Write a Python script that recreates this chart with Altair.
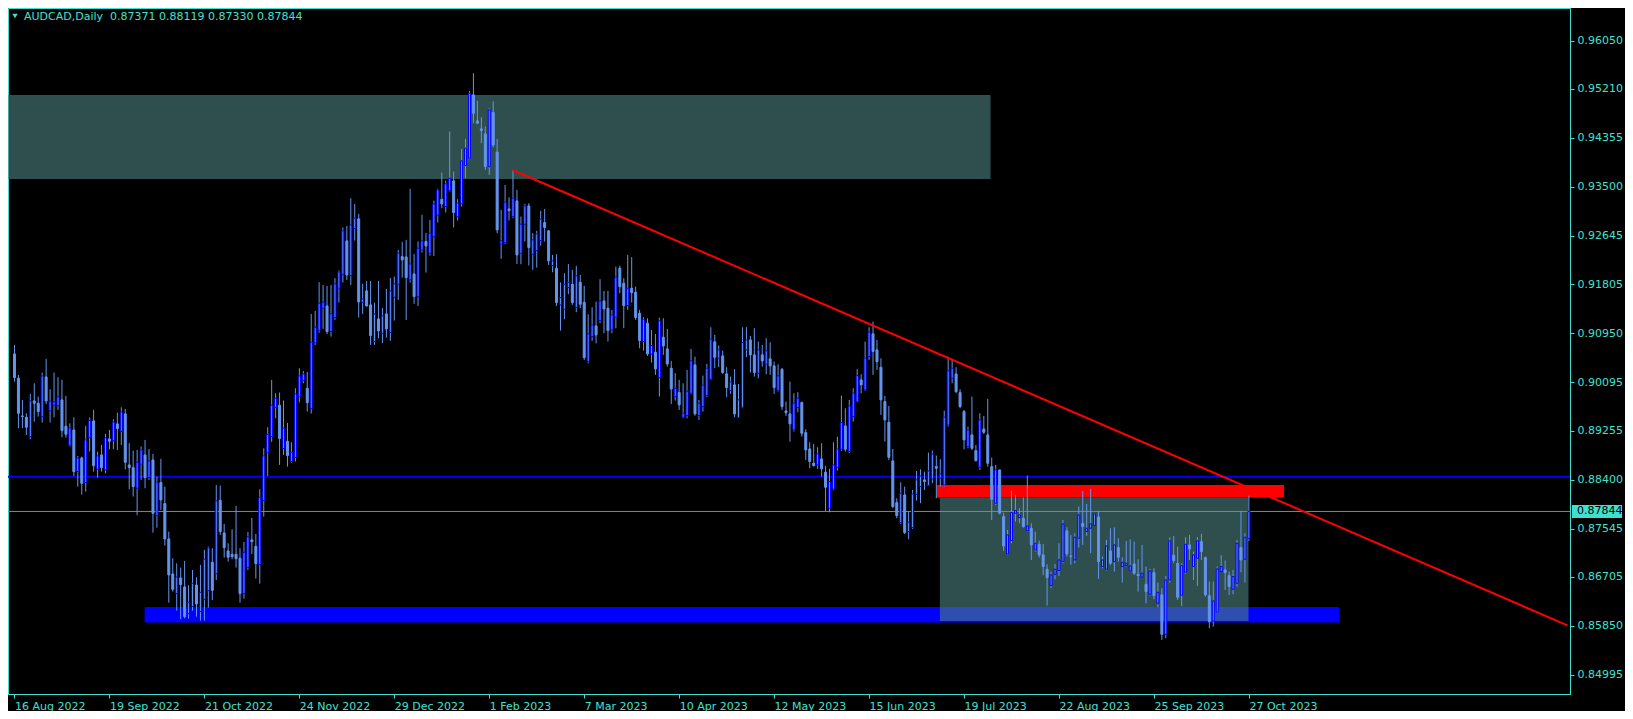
import altair as alt
import pandas as pd

# ---------------- data (AUDCAD daily) ----------------
O = [0.90590,0.90166,0.89509,0.89486,0.89149,0.89770,0.89730,0.89497,0.90189,0.89602,
     0.89695,0.89689,0.89788,0.89329,0.88992,0.89265,0.88539,0.88777,0.88347,0.89131,
     0.89422,0.88579,0.88829,0.88568,0.89108,0.89079,0.89370,0.89236,0.89544,0.88655,
     0.88608,0.88248,0.88667,0.88829,0.88434,0.88742,0.87772,0.88347,0.87981,0.87365,
     0.86755,0.86412,0.86685,0.86529,0.86064,0.86186,0.86563,0.86099,0.86314,0.86465,
     0.86958,0.86761,0.88039,0.87470,0.87156,0.87098,0.87098,0.87028,0.86412,0.86866,
     0.87348,0.87237,0.86918,0.88033,0.88870,0.89149,0.89654,0.89695,0.88940,0.89068,
     0.88713,0.88783,0.89846,0.90125,0.89991,0.89637,0.90787,0.91002,0.91386,0.91426,
     0.90979,0.91223,0.91734,0.91978,0.92559,0.91955,0.92774,0.92943,0.91484,0.91688,
     0.91444,0.90805,0.91200,0.90950,0.91287,0.90962,0.91577,0.91804,0.92286,0.92280,
     0.91880,0.91984,0.91589,0.92402,0.92548,0.92344,0.92635,0.93012,0.93285,0.93158,
     0.93437,0.93605,0.92983,0.93204,0.93872,0.94000,0.95104,0.94651,0.94511,0.94424,
     0.93855,0.94796,0.94105,0.92501,0.92530,0.93117,0.92983,0.93256,0.92344,0.92850,
     0.93169,0.92327,0.92391,0.92565,0.92879,0.92734,0.92129,0.92083,0.91444,0.91368,
     0.91746,0.91804,0.91397,0.91839,0.91490,0.90456,0.90892,0.91078,0.91171,0.91513,
     0.91386,0.91008,0.91229,0.92083,0.91821,0.91432,0.91734,0.91665,0.91298,0.90805,
     0.91124,0.90584,0.90619,0.90177,0.90880,0.90677,0.90340,0.89846,0.89916,0.89486,
     0.89515,0.89904,0.90398,0.89515,0.89672,0.89864,0.90149,0.90799,0.90515,0.90555,
     0.90242,0.89951,0.90050,0.89480,0.89661,0.90660,0.90834,0.90573,0.90253,0.90573,
     0.90410,0.90503,0.90381,0.89951,0.90323,0.89596,0.89544,0.89266,0.89655,0.89742,
     0.89219,0.88934,0.88685,0.88656,0.88760,0.88528,0.87900,0.88237,0.88615,0.88929,
     0.89335,0.88888,0.89498,0.89759,0.90137,0.89963,0.90544,0.90939,0.90660,0.90357,
     0.89759,0.89399,0.88725,0.87998,0.87650,0.88132,0.87493,0.87563,0.88144,0.88277,
     0.88394,0.88295,0.88411,0.88626,0.88423,0.88306,0.89352,0.90166,0.90241,0.89916,
     0.89585,0.88975,0.89178,0.88905,0.88614,0.89282,0.89178,0.88626,0.87987,0.88568,
     0.87754,0.87104,0.87336,0.87813,0.87737,0.87726,0.87510,0.87551,0.87173,0.87272,
     0.87087,0.86837,0.86552,0.86750,0.86814,0.86971,0.87505,0.87069,0.87000,0.87377,
     0.87639,0.87494,0.87552,0.87598,0.87749,0.86884,0.86837,0.87157,0.86971,0.87215,
     0.86884,0.86901,0.86808,0.86930,0.86750,0.86698,0.86576,0.86401,0.86779,0.86244,
     0.86390,0.85704,0.86651,0.87081,0.86942,0.86384,0.86785,0.87261,0.86884,0.87029,
     0.87319,0.87040,0.86378,0.85937,0.86088,0.86796,0.86825,0.86727,0.86488,0.86593,
     0.87215,0.87011,0.87371]
H = [0.90747,0.90224,0.89788,0.89555,0.89892,0.90078,0.89846,0.90264,0.90503,0.89974,
     0.90264,0.90183,0.90137,0.89858,0.89381,0.89486,0.88812,0.88800,0.89335,0.89480,
     0.89614,0.88887,0.89004,0.89195,0.89265,0.89451,0.89567,0.89660,0.89631,0.89033,
     0.88905,0.88916,0.88975,0.89091,0.88934,0.88847,0.88452,0.88760,0.88277,0.87493,
     0.87028,0.86941,0.86866,0.86982,0.86558,0.86825,0.86697,0.86912,0.87173,0.87232,
     0.87203,0.88306,0.88295,0.87627,0.87290,0.87534,0.87940,0.87203,0.87313,0.87487,
     0.87731,0.87452,0.88231,0.88945,0.89312,0.90137,0.89904,0.89916,0.89776,0.89387,
     0.89050,0.89991,0.90340,0.90293,0.90276,0.91287,0.91339,0.91839,0.91792,0.91775,
     0.91792,0.91909,0.92042,0.92792,0.92821,0.93303,0.93204,0.93030,0.91810,0.91862,
     0.91862,0.91484,0.91862,0.91391,0.91723,0.91914,0.91938,0.92402,0.92542,0.92577,
     0.93466,0.92333,0.92548,0.93012,0.92699,0.92925,0.93262,0.93466,0.93750,0.93611,
     0.94465,0.93768,0.93285,0.94163,0.94337,0.95174,0.95482,0.95000,0.94715,0.94552,
     0.94872,0.94988,0.94337,0.93100,0.93535,0.93320,0.93797,0.93448,0.92983,0.93204,
     0.93216,0.92693,0.92734,0.93082,0.93117,0.92751,0.92315,0.92327,0.91833,0.91996,
     0.92158,0.92054,0.92123,0.91967,0.91775,0.91281,0.91403,0.91502,0.91891,0.91688,
     0.91688,0.91357,0.92112,0.92124,0.91909,0.92315,0.92275,0.91763,0.91357,0.91229,
     0.91211,0.91008,0.90938,0.91223,0.91211,0.91025,0.90468,0.90253,0.90137,0.90078,
     0.90311,0.90677,0.90543,0.89788,0.90212,0.90416,0.91055,0.90921,0.90735,0.90648,
     0.90358,0.90195,0.90323,0.90067,0.91055,0.91055,0.90904,0.91038,0.90805,0.90747,
     0.90863,0.90793,0.90457,0.90410,0.90340,0.89759,0.90108,0.89905,0.89922,0.89759,
     0.89277,0.89051,0.89022,0.88963,0.89033,0.88638,0.88586,0.89051,0.89149,0.89864,
     0.89643,0.89788,0.89992,0.90323,0.90236,0.90805,0.91055,0.91154,0.90834,0.90514,
     0.89858,0.89683,0.88934,0.88074,0.88353,0.88277,0.87842,0.88219,0.88550,0.88579,
     0.88539,0.88870,0.88905,0.88818,0.88754,0.89602,0.90543,0.90497,0.90357,0.89974,
     0.89614,0.89323,0.89846,0.89004,0.89556,0.89509,0.89805,0.88783,0.88655,0.88568,
     0.87824,0.87522,0.88202,0.88132,0.87900,0.88086,0.88469,0.87638,0.87493,0.87336,
     0.87279,0.86924,0.86796,0.86930,0.87290,0.87697,0.87569,0.87435,0.87464,0.87929,
     0.88202,0.87976,0.88237,0.87813,0.87854,0.87058,0.87348,0.87552,0.87569,0.87377,
     0.87046,0.87331,0.87360,0.87319,0.87011,0.87261,0.86884,0.86843,0.86854,0.86605,
     0.86506,0.86721,0.87395,0.87418,0.87232,0.86942,0.87395,0.87435,0.87145,0.87395,
     0.87453,0.87058,0.86622,0.86622,0.86884,0.87081,0.86988,0.86796,0.86825,0.87348,
     0.87854,0.87464,0.88119]
L = [0.90107,0.89294,0.89294,0.89178,0.89102,0.89410,0.89497,0.89393,0.89718,0.89393,
     0.89486,0.89614,0.89137,0.89131,0.88975,0.88463,0.88277,0.88138,0.88190,0.88887,
     0.88539,0.88434,0.88539,0.88510,0.88928,0.88928,0.88916,0.89004,0.88579,0.88231,
     0.88103,0.87778,0.88394,0.88248,0.88394,0.87476,0.87563,0.87871,0.87249,0.86255,
     0.86447,0.86116,0.85965,0.85982,0.85977,0.86116,0.86012,0.85942,0.85942,0.86168,
     0.86302,0.86650,0.87435,0.87040,0.86970,0.87011,0.86866,0.86255,0.86325,0.86825,
     0.87104,0.86674,0.86587,0.87754,0.88463,0.89056,0.89468,0.88655,0.88829,0.88626,
     0.88696,0.88713,0.89747,0.90078,0.89585,0.89550,0.90747,0.90962,0.91026,0.90938,
     0.90892,0.91182,0.91484,0.91833,0.91880,0.91792,0.92565,0.91223,0.91287,0.91415,
     0.90747,0.90747,0.90863,0.90776,0.90874,0.90816,0.91171,0.91531,0.91920,0.91182,
     0.91833,0.91461,0.91426,0.92356,0.92007,0.92303,0.92298,0.92879,0.93129,0.93053,
     0.93419,0.92792,0.92914,0.93158,0.93651,0.93983,0.94610,0.94599,0.94262,0.93797,
     0.93710,0.94192,0.92693,0.92245,0.92507,0.92914,0.92954,0.92158,0.92152,0.92548,
     0.92129,0.92054,0.92094,0.92478,0.92548,0.92141,0.92013,0.91426,0.90996,0.91194,
     0.91630,0.91444,0.91316,0.91386,0.90485,0.90427,0.90816,0.90775,0.91124,0.90950,
     0.90805,0.90950,0.91037,0.91647,0.91037,0.91357,0.91484,0.91182,0.90688,0.90648,
     0.90555,0.90439,0.90224,0.89846,0.90572,0.90369,0.89718,0.89776,0.89614,0.89468,
     0.89468,0.89887,0.89515,0.89439,0.89585,0.89835,0.90137,0.90340,0.90358,0.90242,
     0.89835,0.89893,0.89486,0.89469,0.89643,0.90532,0.90265,0.90195,0.90166,0.90369,
     0.90236,0.90224,0.89893,0.89934,0.89614,0.89509,0.89062,0.89237,0.89573,0.89149,
     0.88743,0.88597,0.88626,0.88586,0.88452,0.87850,0.87830,0.88220,0.88557,0.88900,
     0.88888,0.88859,0.89411,0.89748,0.89905,0.89945,0.90486,0.90224,0.90311,0.89526,
     0.89062,0.88742,0.87900,0.87726,0.87627,0.87452,0.87359,0.87539,0.88033,0.87987,
     0.88219,0.88289,0.88335,0.88074,0.88277,0.88277,0.89323,0.90078,0.89904,0.89643,
     0.88928,0.88945,0.88916,0.88713,0.88568,0.89195,0.88626,0.87696,0.87958,0.87795,
     0.87156,0.87086,0.87290,0.87667,0.87638,0.87563,0.87493,0.86999,0.87144,0.87040,
     0.86738,0.86204,0.86506,0.86663,0.86721,0.86942,0.87058,0.86913,0.86942,0.87215,
     0.87261,0.87418,0.87116,0.87592,0.86669,0.86854,0.86814,0.86913,0.86796,0.86971,
     0.86605,0.86884,0.86796,0.86738,0.86448,0.86692,0.86244,0.86378,0.86314,0.86175,
     0.85605,0.85634,0.86605,0.86942,0.86302,0.86198,0.86756,0.87000,0.86651,0.86546,
     0.87000,0.86361,0.85809,0.85838,0.86070,0.86796,0.86477,0.86390,0.86401,0.86535,
     0.86785,0.86605,0.87330]
C = [0.90177,0.89555,0.89497,0.89312,0.89770,0.89730,0.89585,0.90206,0.89770,0.89770,
     0.89753,0.89840,0.89253,0.89189,0.89300,0.88539,0.88777,0.88335,0.89091,0.89428,
     0.88643,0.88812,0.88608,0.89126,0.89068,0.89404,0.89288,0.89579,0.88701,0.88608,
     0.88277,0.88701,0.88916,0.88434,0.88725,0.87813,0.88353,0.88045,0.87365,0.86738,
     0.86488,0.86703,0.86569,0.86012,0.86261,0.86592,0.86232,0.86435,0.87011,0.87208,
     0.86470,0.88028,0.87493,0.87214,0.87046,0.87057,0.87022,0.86412,0.87133,0.87400,
     0.87319,0.86935,0.88091,0.88812,0.89189,0.89695,0.89817,0.89114,0.89294,0.88818,
     0.88876,0.89893,0.90206,0.90241,0.89741,0.90793,0.91055,0.91473,0.91490,0.90979,
     0.91287,0.91810,0.92019,0.92734,0.91967,0.92838,0.92954,0.91496,0.91548,0.91426,
     0.90909,0.91287,0.90991,0.91252,0.91026,0.91688,0.91810,0.92344,0.92228,0.91920,
     0.92158,0.91589,0.92431,0.92559,0.92472,0.92693,0.93204,0.93448,0.93204,0.93553,
     0.93651,0.93053,0.93216,0.93954,0.94174,0.95133,0.94784,0.94610,0.94482,0.93855,
     0.94842,0.94232,0.92751,0.92559,0.93233,0.93088,0.93303,0.92315,0.92850,0.93169,
     0.92443,0.92577,0.92681,0.92937,0.92792,0.92211,0.92211,0.91484,0.91571,0.91804,
     0.91839,0.91484,0.91949,0.91455,0.90526,0.90938,0.91095,0.90921,0.91513,0.91374,
     0.90996,0.91269,0.91926,0.91763,0.91432,0.91734,0.91659,0.91223,0.90822,0.91194,
     0.90590,0.90735,0.90328,0.91165,0.90729,0.90415,0.89980,0.89991,0.89701,0.89555,
     0.89939,0.90468,0.89544,0.89730,0.90044,0.90340,0.90846,0.90532,0.90660,0.90265,
     0.90003,0.90102,0.89544,0.89788,0.90788,0.90834,0.90573,0.90265,0.90660,0.90468,
     0.90643,0.90381,0.90003,0.90207,0.89672,0.89567,0.89370,0.89730,0.89817,0.89207,
     0.88917,0.88714,0.88644,0.88847,0.88586,0.88266,0.88365,0.88655,0.88929,0.89393,
     0.88929,0.89684,0.89905,0.90213,0.90050,0.90515,0.90968,0.90631,0.90456,0.89788,
     0.89439,0.88789,0.87929,0.87772,0.88161,0.87476,0.87656,0.88149,0.88394,0.88463,
     0.88365,0.88550,0.88841,0.88597,0.88498,0.89486,0.90293,0.90340,0.89933,0.89672,
     0.89091,0.89265,0.88945,0.88730,0.89439,0.89224,0.88684,0.88056,0.88568,0.87813,
     0.87243,0.87435,0.87824,0.87859,0.87784,0.87580,0.87592,0.87261,0.87290,0.87086,
     0.86884,0.86692,0.86738,0.86837,0.87000,0.87627,0.87104,0.87058,0.87395,0.87784,
     0.87581,0.87552,0.87627,0.87802,0.86971,0.87000,0.87244,0.86942,0.87261,0.87046,
     0.86959,0.86942,0.86895,0.86767,0.86727,0.86767,0.86448,0.86808,0.86378,0.86436,
     0.85704,0.86651,0.87331,0.86988,0.86349,0.86901,0.87273,0.87191,0.87087,0.87331,
     0.87145,0.86390,0.85925,0.86285,0.86843,0.86884,0.86779,0.86535,0.86709,0.87290,
     0.87000,0.87395,0.87844]

date_labels = ['16 Aug 2022', '19 Sep 2022', '21 Oct 2022', '24 Nov 2022', '29 Dec 2022',
               '1 Feb 2023', '7 Mar 2023', '10 Apr 2023', '12 May 2023', '15 Jun 2023',
               '19 Jul 2023', '22 Aug 2023', '25 Sep 2023', '27 Oct 2023']
bars_per_label = 24
price_ticks = [0.96050, 0.95210, 0.94355, 0.93500, 0.92645, 0.91805, 0.90950, 0.90095,
               0.89255, 0.88400, 0.87545, 0.86705, 0.85850, 0.84995]

# drawn objects (bar index / price)
zone_x1 = [-3.0, 32.9, 233.9, 233.1]
zone_x2 = [246.7, 334.8, 311.9, 320.9]
zone_lo = [0.93638, 0.85907, 0.85937, 0.88086]
zone_hi = [0.95102, 0.86181, 0.88086, 0.88306]
zone_kind = ['top', 'blue', 'box', 'red']

trend_i = [125.9, 392.5]
trend_p = [0.93795, 0.85860]

blue_level = 0.88451
last_price = C[-1]

# ---------------- styling ----------------
TURQ = '#40E0D0'
CORN = '#6495ED'
FONT = 'DejaVu Sans'

W, Hh = 1562, 686
xs = alt.Scale(domain=[-0.377, 391.9], nice=False, zero=False)
ys = alt.Scale(domain=[0.84663, 0.96618], nice=False, zero=False)

label_expr = '[' + ','.join("'%s'" % d for d in date_labels) + \
    '][round(datum.value/%d)]' % bars_per_label
x_axis = alt.Axis(values=[k * bars_per_label for k in range(len(date_labels))],
                  labelExpr=label_expr, labelAlign='left', labelBaseline='top',
                  labelPadding=2, tickSize=4, labelFlush=False, labelOverlap=False,
                  grid=False, title=None, domainColor=TURQ, tickColor=TURQ,
                  labelColor=TURQ, labelFont=FONT, labelFontSize=11)
y_axis = alt.Axis(orient='right', values=price_ticks, format='.5f', labelAlign='left',
                  labelBaseline='middle', labelPadding=3, tickSize=4, grid=False,
                  title=None, domainColor=TURQ, tickColor=TURQ, labelColor=TURQ,
                  labelFont=FONT, labelFontSize=11, labelOverlap=False, labelFlush=False)


def X(field):
    return alt.X(field, type='quantitative', scale=xs, axis=x_axis, title=None)


def Y(field):
    return alt.Y(field, type='quantitative', scale=ys, axis=y_axis, title=None)


df = pd.DataFrame({'i': list(range(len(C))), 'O': O, 'H': H, 'L': L, 'C': C})

zones = pd.DataFrame({'x1': zone_x1, 'x2': zone_x2, 'lo': zone_lo, 'hi': zone_hi,
                      'kind': zone_kind})


def zone_layer(kind, color, opacity=1.0):
    return alt.Chart(zones[zones.kind == kind]).mark_rect(
        color=color, opacity=opacity, clip=True).encode(
        x=X('x1'), x2='x2', y=Y('lo'), y2='hi')


top_zone = zone_layer('top', '#4C7F7F', 0.62)
blue_zone = zone_layer('blue', '#0000FF')
box_zone = zone_layer('box', '#4C7F7F', 0.62)
red_zone = zone_layer('red', '#FF0000')

blue_line = alt.Chart(pd.DataFrame({'p': [blue_level]})).mark_rule(
    color='#0000FF', strokeWidth=2).encode(y=Y('p'))
gray_line = alt.Chart(pd.DataFrame({'p': [last_price]})).mark_rule(
    color='#778899', strokeWidth=1).encode(y=Y('p'))

wicks = alt.Chart(df).mark_rule(color=CORN, strokeWidth=1).encode(
    x=X('i'), y=Y('L'), y2='H')

bodies = alt.Chart(df).mark_bar(width=2, strokeWidth=1, fill=CORN).encode(
    x=X('i'), y=Y('O'), y2='C',
    stroke=alt.condition('datum.C >= datum.O', alt.value('#0000FF'), alt.value(CORN)))

trend = alt.Chart(pd.DataFrame({'i': trend_i, 'p': trend_p})).mark_line(
    color='#FF0000', strokeWidth=2, clip=True).encode(x=X('i'), y=Y('p'))

header_txt = 'AUDCAD,Daily\u00a0\u00a0%.5f %.5f %.5f %.5f' % (O[-1], H[-1], L[-1], C[-1])
header = alt.Chart(pd.DataFrame({'t': [header_txt]})).mark_text(
    align='left', baseline='alphabetic', color=TURQ, font=FONT, fontSize=11).encode(
    text='t:N', x=alt.value(16), y=alt.value(12))
tri = alt.Chart(pd.DataFrame({'t': [1]})).mark_point(
    shape='triangle-down', filled=True, size=30, color=TURQ, opacity=1).encode(
    x=alt.value(7), y=alt.value(8))

tag_half = 0.00113
tag = alt.Chart(pd.DataFrame({'lo': [last_price - tag_half],
                              'hi': [last_price + tag_half]})).mark_rect(
    color=TURQ).encode(y=Y('lo'), y2='hi', x=alt.value(W + 2), x2=alt.value(W + 52))
tag_text = alt.Chart(pd.DataFrame({'p': [last_price], 't': ['%.5f' % last_price]})).mark_text(
    align='left', baseline='middle', color='black', font=FONT, fontSize=11).encode(
    y=Y('p'), text='t:N', x=alt.value(W + 7))

chart = alt.layer(
    top_zone, blue_zone, box_zone, red_zone, blue_line, gray_line,
    wicks, bodies, trend, header, tri, tag, tag_text
).properties(
    width=W, height=Hh,
    autosize=alt.AutoSizeParams(type='none'),
    padding={'left': 0, 'top': 0, 'right': 55, 'bottom': 17},
    background='black'
).configure_view(stroke=TURQ, strokeWidth=1, fill='black')

chart.save('out.html', embed_options={'renderer': 'svg', 'actions': False})
